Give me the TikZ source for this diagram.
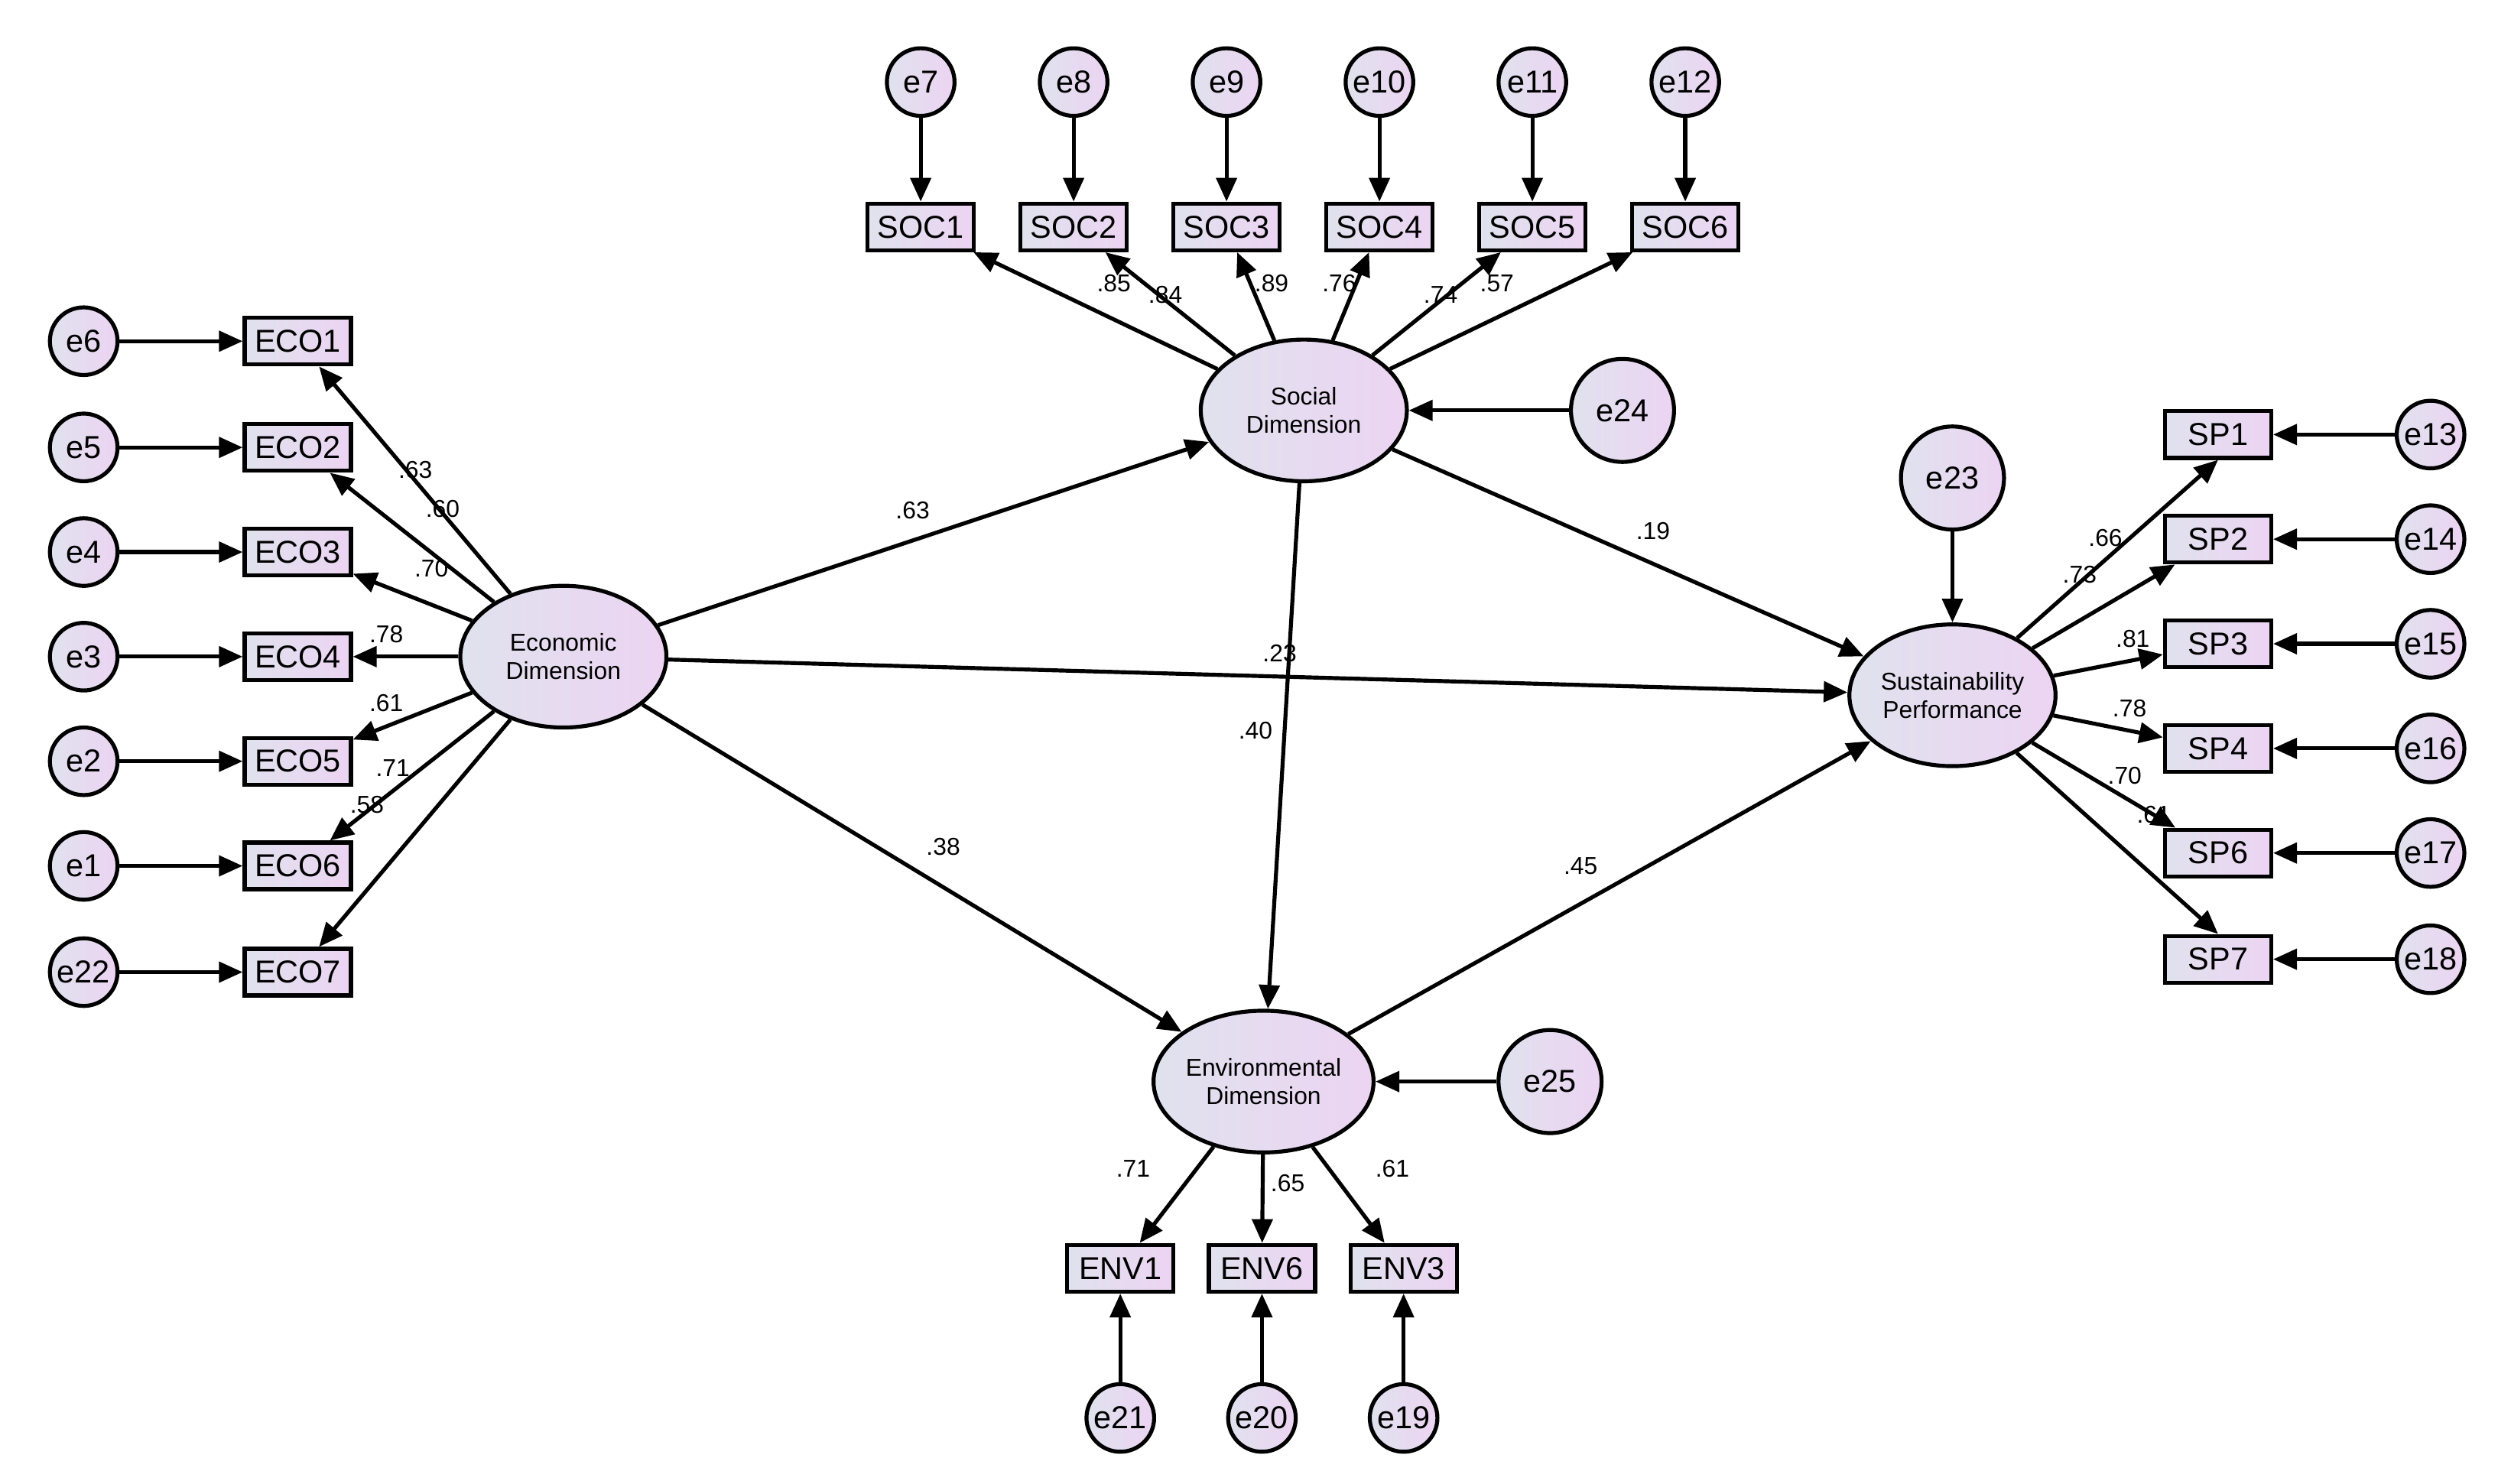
\documentclass[tikz,border=0pt]{standalone}
\usepackage{fontspec}
\setmainfont{Liberation Sans}
\usetikzlibrary{
  positioning,
  arrows.meta,
  shapes.geometric
}
\definecolor{leftfill}{RGB}{224,226,238}
\definecolor{rightfill}{RGB}{236,212,242}

\begin{document}
\begin{tikzpicture}[
    x=0.01cm,y=-0.01cm,
    line width=0.7pt,
    >={Triangle[length=4.2pt,width=3.6pt]},
    obsNode/.style={draw,rectangle,left color=leftfill,right color=rightfill,minimum width=0.66cm,minimum height=0.29cm,inner sep=0pt,font=\fontsize{5.6}{6}\selectfont},
    errNode/.style={draw,circle,left color=leftfill,right color=rightfill,minimum size=0.42cm,inner sep=0pt,font=\fontsize{5.6}{6}\selectfont},
    bigErr/.style={errNode,minimum size=0.64cm},
    latNode/.style={draw,ellipse,left color=leftfill,right color=rightfill,minimum width=1.28cm,minimum height=0.88cm,inner sep=0pt,align=center,font=\fontsize{4.3}{5}\selectfont},
    coef/.style={font=\fontsize{4.3}{5}\selectfont,inner sep=0pt}
  ]
    \useasboundingbox (0,0) rectangle (1560,922);

    % latent variables
    \node[latNode] (eco) at (350,408) {Economic\\Dimension};
    \node[latNode] (soc) at (810,255) {Social\\Dimension};
    \node[latNode,minimum width=1.16cm] (env) at (785,672) {Environmental\\Dimension};
    \node[latNode] (sus) at (1213,432) {Sustainability\\Performance};

    % structural residuals
    \node[bigErr] (e24) at (1008,255) {e24};
    \node[bigErr] (e25) at (963,672) {e25};
    \node[bigErr] (e23) at (1213,297) {e23};

    % coefficient labels (drawn before arrows)
    \node[coef] (l1) at (258,292) {.63};
    \node[coef] (l2) at (275,316) {.60};
    \node[coef] (l3) at (268,353) {.70};
    \node[coef] (l4) at (240,394) {.78};
    \node[coef] (l5) at (240,437) {.61};
    \node[coef] (l6) at (244,477) {.71};
    \node[coef] (l7) at (228,500) {.58};
    \node[coef] (s1) at (692,176) {.85};
    \node[coef] (s2) at (724,183) {.84};
    \node[coef] (s3) at (790,176) {.89};
    \node[coef] (s4) at (832,176) {.76};
    \node[coef] (s5) at (895,183) {.74};
    \node[coef] (s6) at (930,176) {.57};
    \node[coef] (p1) at (567,317) {.63};
    \node[coef] (p2) at (1027,330) {.19};
    \node[coef] (p3) at (795,406) {.23};
    \node[coef] (p4) at (780,454) {.40};
    \node[coef] (p5) at (586,526) {.38};
    \node[coef] (p6) at (982,538) {.45};
    \node[coef] (q1) at (1308,334) {.66};
    \node[coef] (q2) at (1292,357) {.73};
    \node[coef] (q3) at (1325,397) {.81};
    \node[coef] (q4) at (1323,440) {.78};
    \node[coef] (q5) at (1320,482) {.70};
    \node[coef] (q6) at (1338,506) {.61};
    \node[coef] (n1) at (704,726) {.71};
    \node[coef] (n2) at (800,735) {.65};
    \node[coef] (n3) at (865,726) {.61};

    % economic indicators
    \foreach \i/\e/\y in {1/e6/212,2/e5/278,3/e4/343,4/e3/408,5/e2/473,6/e1/538,7/e22/604}{
      \node[obsNode] (eco\i) at (185,\y) {ECO\i};
      \node[errNode] (\e) at (52,\y) {\e};
      \draw[->] (\e) -- (eco\i);
      \draw[->] (eco) -- (eco\i);
    }

    % social indicators
    \foreach \i/\e/\x in {1/e7/572,2/e8/667,3/e9/762,4/e10/857,5/e11/952,6/e12/1047}{
      \node[obsNode] (soc\i) at (\x,141) {SOC\i};
      \node[errNode] (\e) at (\x,51) {\e};
      \draw[->] (\e) -- (soc\i);
      \draw[->] (soc) -- (soc\i);
    }

    % sustainability indicators
    \foreach \i/\e/\y in {1/e13/270,2/e14/335,3/e15/400,4/e16/465,6/e17/530,7/e18/596}{
      \node[obsNode] (sp\i) at (1378,\y) {SP\i};
      \node[errNode] (\e) at (1510,\y) {\e};
      \draw[->] (\e) -- (sp\i);
    }
    \draw[->] (sus) -- (sp1.south);
    \draw[->] (sus) -- (sp2);
    \draw[->] (sus) -- (sp3);
    \draw[->] (sus) -- (sp4);
    \draw[->] (sus) -- (sp6);
    \draw[->] (sus) -- (sp7.north);

    % environmental indicators
    \foreach \n/\e/\x in {1/e21/696,6/e20/784,3/e19/872}{
      \node[obsNode] (env\n) at (\x,788) {ENV\n};
      \node[errNode] (\e) at (\x,881) {\e};
      \draw[->] (\e) -- (env\n);
      \draw[->] (env) -- (env\n);
    }

    % structural paths
    \draw[->] (eco) -- (soc);
    \draw[->] (eco) -- (env);
    \draw[->] (eco) -- (sus);
    \draw[->] (soc) -- (env);
    \draw[->] (soc) -- (sus);
    \draw[->] (env) -- (sus);
    \draw[->] (e24) -- (soc);
    \draw[->] (e25) -- (env);
    \draw[->] (e23) -- (sus);
  \end{tikzpicture}
\end{document}
